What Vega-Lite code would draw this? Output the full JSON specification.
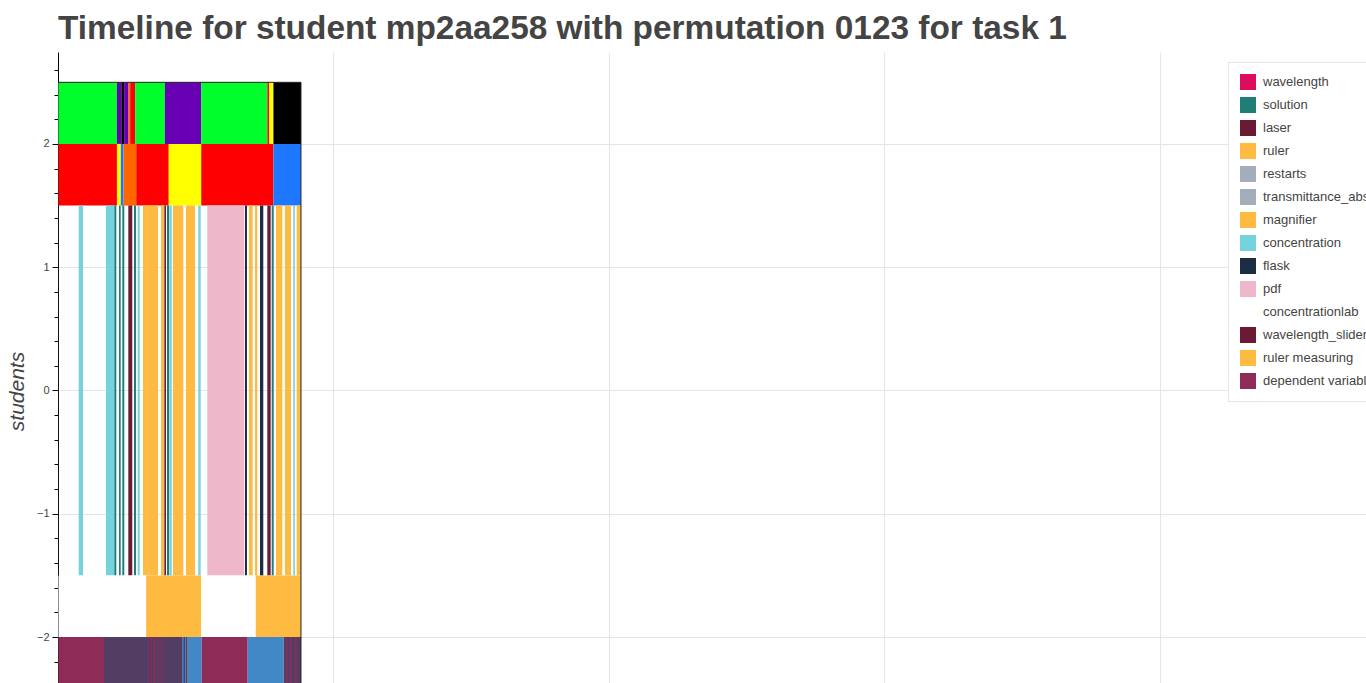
{
  "$schema": "https://vega.github.io/schema/vega-lite/v6.json",
  "width": 1308,
  "height": 631,
  "autosize": {"type": "none"},
  "padding": {"left": 58, "top": 52, "right": 0, "bottom": 0},
  "background": "white",
  "title": {
    "text": "Timeline for student mp2aa258 with permutation 0123 for task 1",
    "anchor": "start",
    "frame": "group",
    "font": "Liberation Sans",
    "fontSize": 33.4,
    "fontWeight": "bold",
    "color": "#444444",
    "offset": 6
  },
  "config": {"view": {"stroke": null}},
  "datasets": {
    "segments": [
      {"category": "phase green", "start": 0, "end": 107, "y0": 2, "y1": 2.5},
      {"category": "phase purple", "start": 107, "end": 115, "y0": 2, "y1": 2.5},
      {"category": "phase black", "start": 115, "end": 120, "y0": 2, "y1": 2.5},
      {"category": "phase purple", "start": 120, "end": 128, "y0": 2, "y1": 2.5},
      {"category": "phase orange", "start": 128, "end": 131, "y0": 2, "y1": 2.5},
      {"category": "phase red", "start": 131, "end": 140, "y0": 2, "y1": 2.5},
      {"category": "phase green", "start": 140, "end": 194, "y0": 2, "y1": 2.5},
      {"category": "phase purple", "start": 194, "end": 260, "y0": 2, "y1": 2.5},
      {"category": "phase green", "start": 260, "end": 380, "y0": 2, "y1": 2.5},
      {"category": "phase red", "start": 380, "end": 383, "y0": 2, "y1": 2.5},
      {"category": "phase yellow", "start": 383, "end": 391, "y0": 2, "y1": 2.5},
      {"category": "phase black", "start": 391, "end": 441, "y0": 2, "y1": 2.5},

      {"category": "phase red", "start": 0, "end": 107, "y0": 1.5, "y1": 2},
      {"category": "phase yellow", "start": 107, "end": 114, "y0": 1.5, "y1": 2},
      {"category": "phase blue", "start": 114, "end": 119, "y0": 1.5, "y1": 2},
      {"category": "phase orange", "start": 119, "end": 142, "y0": 1.5, "y1": 2},
      {"category": "phase red", "start": 142, "end": 201, "y0": 1.5, "y1": 2},
      {"category": "phase yellow", "start": 201, "end": 260, "y0": 1.5, "y1": 2},
      {"category": "phase red", "start": 260, "end": 391, "y0": 1.5, "y1": 2},
      {"category": "phase blue", "start": 391, "end": 441, "y0": 1.5, "y1": 2},

      {"category": "concentration", "start": 37.6, "end": 45.4, "y0": -1.5, "y1": 1.5},
      {"category": "concentration", "start": 87.1, "end": 102.2, "y0": -1.5, "y1": 1.5},
      {"category": "solution", "start": 102.2, "end": 105.8, "y0": -1.5, "y1": 1.5},
      {"category": "solution", "start": 110.7, "end": 113.8, "y0": -1.5, "y1": 1.5},
      {"category": "solution", "start": 116.7, "end": 120.3, "y0": -1.5, "y1": 1.5},
      {"category": "laser", "start": 127.6, "end": 134.8, "y0": -1.5, "y1": 1.5},
      {"category": "solution", "start": 137.9, "end": 141.6, "y0": -1.5, "y1": 1.5},
      {"category": "concentration", "start": 144.7, "end": 148.3, "y0": -1.5, "y1": 1.5},
      {"category": "magnifier", "start": 154.3, "end": 165, "y0": -1.5, "y1": 1.5},
      {"category": "ruler", "start": 165, "end": 181.5, "y0": -1.5, "y1": 1.5},
      {"category": "ruler", "start": 187, "end": 192.4, "y0": -1.5, "y1": 1.5},
      {"category": "laser", "start": 193, "end": 196, "y0": -1.5, "y1": 1.5},
      {"category": "solution", "start": 197.8, "end": 201.5, "y0": -1.5, "y1": 1.5},
      {"category": "concentration", "start": 202, "end": 206.4, "y0": -1.5, "y1": 1.5},
      {"category": "ruler", "start": 208.7, "end": 227.4, "y0": -1.5, "y1": 1.5},
      {"category": "ruler", "start": 232.3, "end": 248.7, "y0": -1.5, "y1": 1.5},
      {"category": "concentration", "start": 254.6, "end": 259, "y0": -1.5, "y1": 1.5},
      {"category": "pdf", "start": 271, "end": 338.1, "y0": -1.5, "y1": 1.5},
      {"category": "flask", "start": 339.4, "end": 343, "y0": -1.5, "y1": 1.5},
      {"category": "ruler", "start": 346.7, "end": 353.4, "y0": -1.5, "y1": 1.5},
      {"category": "ruler", "start": 357.6, "end": 361.7, "y0": -1.5, "y1": 1.5},
      {"category": "flask", "start": 366.6, "end": 372.6, "y0": -1.5, "y1": 1.5},
      {"category": "wavelength_slider", "start": 379.9, "end": 386, "y0": -1.5, "y1": 1.5},
      {"category": "solution", "start": 387.9, "end": 391.5, "y0": -1.5, "y1": 1.5},
      {"category": "ruler", "start": 395.7, "end": 407.1, "y0": -1.5, "y1": 1.5},
      {"category": "magnifier", "start": 412, "end": 422.9, "y0": -1.5, "y1": 1.5},
      {"category": "concentration", "start": 427, "end": 430, "y0": -1.5, "y1": 1.5},
      {"category": "ruler", "start": 433.2, "end": 441, "y0": -1.5, "y1": 1.5},

      {"category": "concentrationlab", "start": 0, "end": 160, "y0": -2, "y1": -1.5},
      {"category": "ruler measuring", "start": 160, "end": 260, "y0": -2, "y1": -1.5},
      {"category": "concentrationlab", "start": 260, "end": 359, "y0": -2, "y1": -1.5},
      {"category": "ruler measuring", "start": 359, "end": 441, "y0": -2, "y1": -1.5},

      {"category": "dependent variable", "start": 0, "end": 83.5, "y0": -2.5, "y1": -2},
      {"category": "independent variable", "start": 83.5, "end": 235.4, "y0": -2.5, "y1": -2},
      {"category": "control variable", "start": 235.4, "end": 260.8, "y0": -2.5, "y1": -2},
      {"category": "dependent variable", "start": 260.8, "end": 344.3, "y0": -2.5, "y1": -2},
      {"category": "control variable", "start": 344.3, "end": 409.6, "y0": -2.5, "y1": -2},
      {"category": "independent variable", "start": 409.6, "end": 441, "y0": -2.5, "y1": -2},
      {"category": "dependent variable", "start": 163.4, "end": 165.2, "y0": -2.5, "y1": -2},
      {"category": "dependent variable", "start": 167.9, "end": 170.6, "y0": -2.5, "y1": -2},
      {"category": "dependent variable", "start": 174.2, "end": 177, "y0": -2.5, "y1": -2},
      {"category": "dependent variable", "start": 181.5, "end": 183.3, "y0": -2.5, "y1": -2},
      {"category": "dependent variable", "start": 187.8, "end": 189.6, "y0": -2.5, "y1": -2},
      {"category": "control variable", "start": 225.3, "end": 228, "y0": -2.5, "y1": -2},
      {"category": "control variable", "start": 230.5, "end": 232.3, "y0": -2.5, "y1": -2},
      {"category": "dependent variable", "start": 413.8, "end": 416.2, "y0": -2.5, "y1": -2},
      {"category": "dependent variable", "start": 421, "end": 424.1, "y0": -2.5, "y1": -2},
      {"category": "dependent variable", "start": 430.2, "end": 433.2, "y0": -2.5, "y1": -2}
    ],
    "frame": [
      {"start": 0, "end": 441, "y0": -2.5, "y1": 2.5}
    ]
  },
  "layer": [
    {
      "data": {"name": "segments"},
      "mark": {"type": "rect", "clip": true, "opacity": 1},
      "encoding": {
        "x": {
          "field": "start",
          "type": "quantitative",
          "scale": {"domain": [0, 2374], "nice": false, "zero": false},
          "axis": {
            "title": null,
            "values": [500, 1000, 1500, 2000],
            "tickCount": 10,
            "labels": false,
            "ticks": false,
            "domain": false,
            "grid": true,
            "gridColor": "#e5e5e5",
            "gridWidth": 1
          }
        },
        "x2": {"field": "end"},
        "y": {
          "field": "y0",
          "type": "quantitative",
          "scale": {"domain": [-2.373, 2.746], "nice": false, "zero": false},
          "axis": {
            "title": "students",
            "titleFont": "Liberation Sans",
            "titleFontStyle": "italic",
            "titleFontWeight": "normal",
            "titleFontSize": 21,
            "titleColor": "#444444",
            "titleAngle": -90,
            "titleX": -41,
            "titleY": 339,
            "titleAlign": "center",
            "titleBaseline": "middle",
            "values": [-2.2, -2, -1.8, -1.6, -1.4, -1.2, -1, -0.8, -0.6, -0.4, -0.2, 0, 0.2, 0.4, 0.6, 0.8, 1, 1.2, 1.4, 1.6, 1.8, 2, 2.2, 2.4, 2.6],
            "tickCount": 40,
            "labelExpr": "abs(datum.value - round(datum.value)) < 0.001 ? format(round(datum.value), 'd') : ''",
            "labelOverlap": false,
            "tickSize": {"condition": {"test": "abs(datum.value - round(datum.value)) < 0.001", "value": 6}, "value": 4},
            "gridOpacity": {"condition": {"test": "abs(datum.value - round(datum.value)) < 0.001", "value": 1}, "value": 0},
            "grid": true,
            "gridColor": "#e5e5e5",
            "domainColor": "#000000",
            "tickColor": "#000000",
            "labelColor": "#444444",
            "labelFont": "Liberation Sans",
            "labelFontSize": 11,
            "labelPadding": 3
          }
        },
        "y2": {"field": "y1"},
        "color": {
          "field": "category",
          "type": "nominal",
          "scale": {
            "domain": ["wavelength", "solution", "laser", "ruler", "restarts", "transmittance_absorbance", "magnifier", "concentration", "flask", "pdf", "concentrationlab", "wavelength_slider", "ruler measuring", "dependent variable", "independent variable", "control variable", "phase green", "phase purple", "phase black", "phase orange", "phase red", "phase yellow", "phase blue"],
            "range": ["#dc0d5a", "#1f7f78", "#6b1a33", "#ffba42", "#a4aebb", "#a4aebb", "#ffba42", "#74d3de", "#1c2c42", "#efb7ca", "#ffffff", "#6b1a33", "#ffba42", "#8e2b57", "#523d63", "#4287c6", "#00ff2a", "#6600b2", "#000000", "#ff6600", "#ff0000", "#ffff00", "#1e78ff"]
          },
          "legend": {
            "title": null,
            "orient": "none",
            "legendX": 1170,
            "legendY": 10,
            "direction": "vertical",
            "values": ["wavelength", "solution", "laser", "ruler", "restarts", "transmittance_absorbance", "magnifier", "concentration", "flask", "pdf", "concentrationlab", "wavelength_slider", "ruler measuring", "dependent variable"],
            "symbolType": "square",
            "symbolSize": 256,
            "symbolStrokeWidth": 0,
            "symbolOpacity": 1,
            "labelFont": "Liberation Sans",
            "labelFontSize": 13,
            "labelColor": "#444444",
            "labelOffset": 7,
            "labelLimit": 400,
            "rowPadding": 7,
            "padding": 12,
            "strokeColor": "#e5e5e5",
            "fillColor": "#ffffff"
          }
        }
      }
    },
    {
      "data": {"name": "frame"},
      "mark": {"type": "rect", "filled": false, "stroke": "#222222", "strokeWidth": 1, "clip": true},
      "encoding": {
        "x": {"field": "start", "type": "quantitative"},
        "x2": {"field": "end"},
        "y": {"field": "y0", "type": "quantitative"},
        "y2": {"field": "y1"}
      }
    }
  ]
}
